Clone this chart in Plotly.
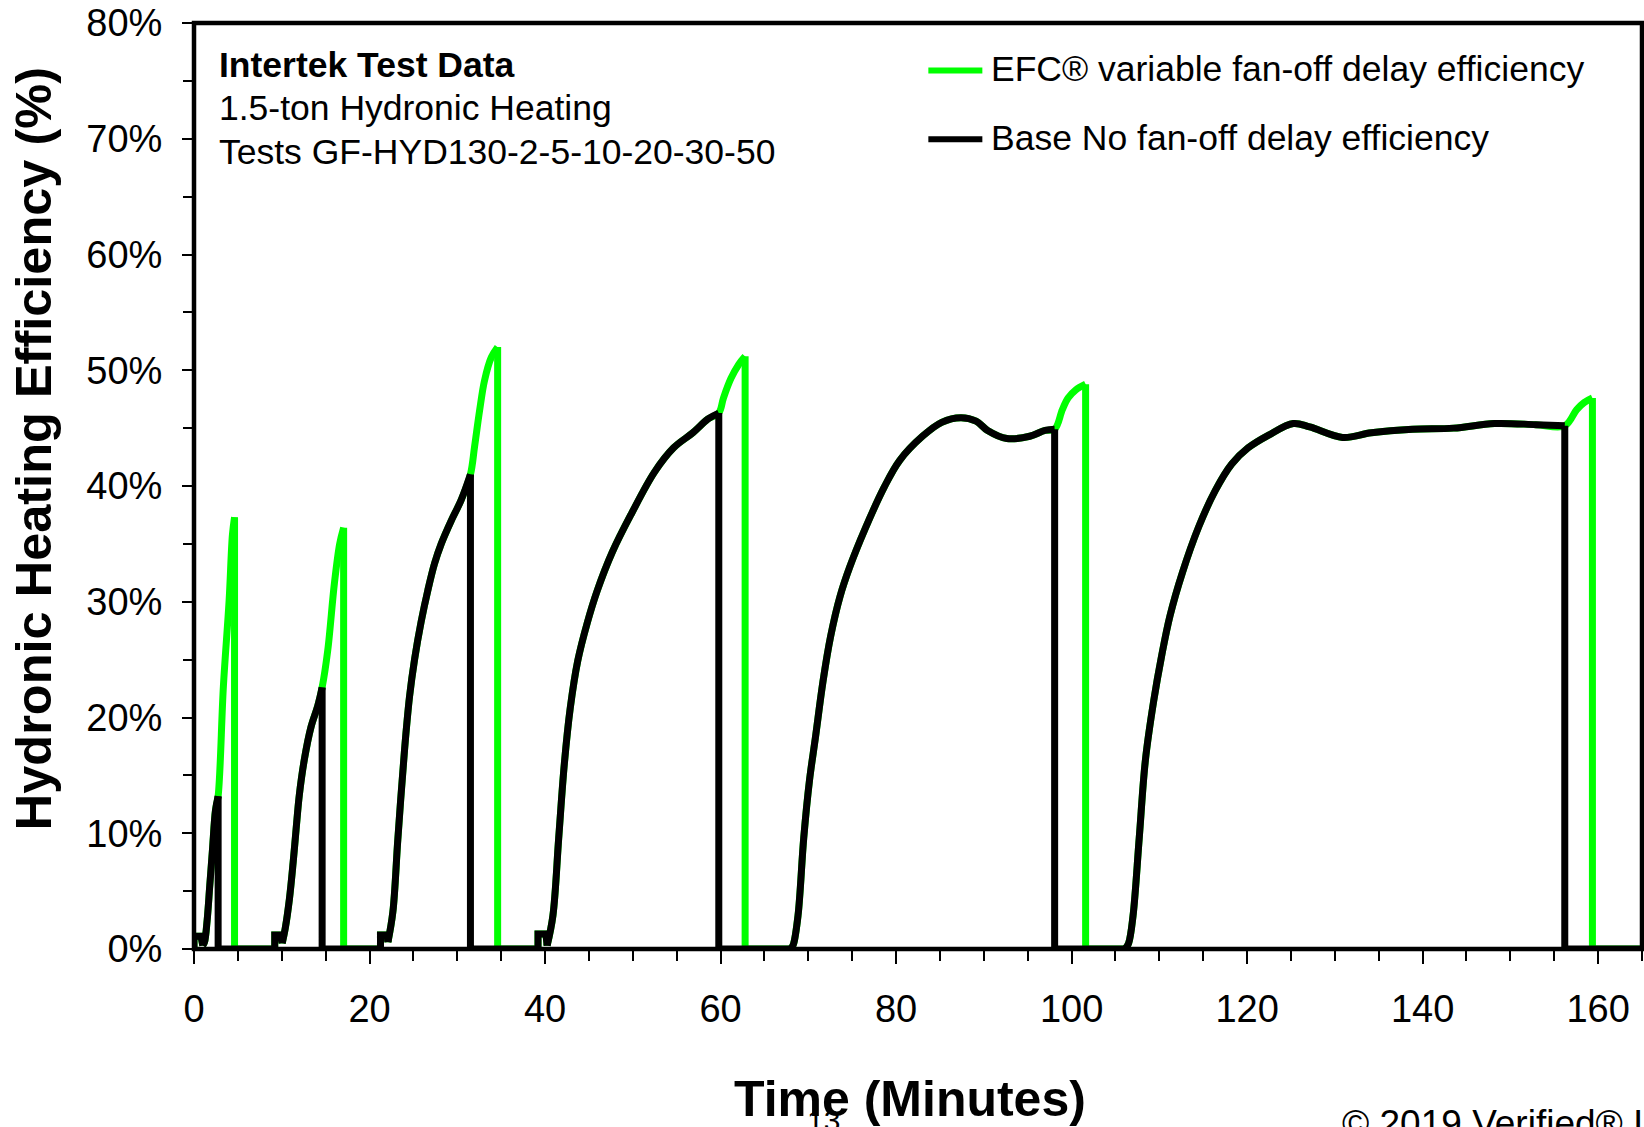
import plotly.graph_objects as go

# ---------------- data (time in minutes, efficiency in %) ----------------
# Burner-on portions of each cycle (shared by both series)
c1_time = [0.0, 0.0, 0.8, 1.0, 1.2, 1.5, 1.8, 2.1, 2.45, 2.75]
c1_eff = [0.0, 1.1, 1.1, 0.3, 0.6, 2.5, 5.5, 8.5, 12.0, 13.2]
c2_time = [9.2, 9.2, 9.9, 10.05, 10.4, 10.87, 11.3, 11.63, 12.0, 12.58, 13.34, 14.1, 14.6]
c2_eff = [0.0, 1.2, 1.2, 0.5, 1.8, 4.3, 7.5, 10.3, 13.3, 16.4, 19.2, 21.0, 22.6]
c3_time = [21.25, 21.25, 22.0, 22.1, 22.66, 23.23, 23.99, 24.56, 25.13, 25.89, 26.65,
           27.41, 28.17, 29.31, 30.45, 31.5]
c3_eff = [0.0, 1.2, 1.2, 0.6, 3.2, 9.5, 17.2, 21.8, 25.0, 28.3, 31.0, 33.3, 35.0, 37.0,
          38.8, 41.0]
c4_time = [39.2, 39.2, 40.1, 40.24, 40.9, 41.56, 42.2, 42.87, 43.73, 44.82, 45.92, 47.67,
           49.84, 52.47, 54.65, 56.84, 58.58, 59.8]
c4_eff = [0.0, 1.3, 1.3, 0.3, 2.9, 9.6, 16.0, 20.8, 24.9, 28.2, 30.9, 34.3, 37.6, 41.2,
          43.3, 44.6, 45.8, 46.3]
c5_time = [68.0, 68.3, 68.83, 69.48, 70.14, 70.8, 71.67, 72.54, 73.63, 74.72, 76.47,
           78.65, 80.4, 83.02, 85.2, 87.38, 89.12, 90.43, 92.62, 95.24, 96.98, 98.07]
c5_eff = [0.0, 0.4, 2.9, 9.6, 14.6, 18.2, 23.1, 27.0, 30.5, 33.0, 36.3, 39.9, 42.2, 44.3,
          45.5, 45.9, 45.6, 44.8, 44.1, 44.3, 44.8, 44.9]
c6_time = [106.1, 106.5, 107.0, 107.71, 108.41, 109.35, 110.28, 111.22, 112.62, 114.5,
           116.37, 118.25, 120.12, 122.46, 125.27, 127.14, 130.88, 134.16, 138.84,
           143.52, 148.2, 152.9, 156.2]
c6_eff = [0.0, 0.5, 2.85, 9.6, 16.3, 21.4, 25.4, 28.8, 32.5, 36.5, 39.6, 41.9, 43.3, 44.4,
          45.4, 45.1, 44.2, 44.6, 44.9, 45.0, 45.4, 45.3, 45.2]
# index in each on-portion where the smooth warm-up curve begins (after start-up step)
smooth_start = [3, 3, 3, 3, 0, 0]

# EFC variable fan-off delay tails (after burner off)
c1_tail_time = [3.35, 4.0, 4.38, 4.62]
c1_tail_eff = [22.7, 30.1, 35.8, 37.3]
c2_tail_time = [15.24, 16.0, 16.6, 17.05]
c2_tail_eff = [25.8, 31.6, 35.0, 36.4]
c3_tail_time = [31.97, 32.54, 33.1, 33.87, 34.6]
c3_tail_eff = [43.4, 46.5, 49.1, 51.1, 52.0]
c4_tail_time = [60.33, 61.19, 62.07, 62.8]
c4_tail_eff = [47.6, 49.3, 50.5, 51.2]
c5_tail_time = [98.95, 99.6, 100.47, 101.6]
c5_tail_eff = [46.6, 47.6, 48.3, 48.8]
c6_tail_time = [157.56, 158.4, 159.35]
c6_tail_eff = [46.6, 47.2, 47.6]

end_time = 165.0

x_tick_vals = [0, 20, 40, 60, 80, 100, 120, 140, 160]
y_tick_vals = [0.0, 0.1, 0.2, 0.3, 0.4, 0.5, 0.6, 0.7, 0.8]
y_tick_text = ["0%", "10%", "20%", "30%", "40%", "50%", "60%", "70%", "80%"]

cycles = [
    (c1_time, c1_eff, c1_tail_time, c1_tail_eff),
    (c2_time, c2_eff, c2_tail_time, c2_tail_eff),
    (c3_time, c3_eff, c3_tail_time, c3_tail_eff),
    (c4_time, c4_eff, c4_tail_time, c4_tail_eff),
    (c5_time, c5_eff, c5_tail_time, c5_tail_eff),
    (c6_time, c6_eff, c6_tail_time, c6_tail_eff),
]

# straight parts (start-up steps, burner-off drops, zero baseline) and smooth parts;
# None breaks the straight polyline where the smooth curve takes over
base_lin_x, base_lin_y, efc_lin_x, efc_lin_y = [], [], [], []
base_curves, efc_curves = [], []
for (on_t, on_e, tail_t, tail_e), k in zip(cycles, smooth_start):
    on_f = [v / 100 for v in on_e]
    tail_f = [v / 100 for v in tail_e]
    base_lin_x += on_t[:k + 1] + [None, on_t[-1], on_t[-1]]
    base_lin_y += on_f[:k + 1] + [None, on_f[-1], 0.0]
    base_curves.append((on_t[k:], on_f[k:]))
    efc_lin_x += on_t[:k + 1] + [None, tail_t[-1], tail_t[-1]]
    efc_lin_y += on_f[:k + 1] + [None, tail_f[-1], 0.0]
    efc_curves.append((on_t[k:] + tail_t, on_f[k:] + tail_f))
base_lin_x.append(end_time); base_lin_y.append(0.0)
efc_lin_x.append(end_time); efc_lin_y.append(0.0)

# ---------------- layout geometry ----------------
W, H = 1644, 1127
L, R, T, B = 193.7, 1641.6, 21.0, 949.3
FONT = "Liberation Sans, Arial, Helvetica, sans-serif"
GREEN = "#00FF00"
LW = 7


def px(x):
    return (x - L) / (R - L)


def py(y):
    return (B - y) / (B - T)


fig = go.Figure()
for name, color, lin_x, lin_y, curves in [
        ("EFC® variable fan-off delay efficiency", GREEN, efc_lin_x, efc_lin_y, efc_curves),
        ("Base No fan-off delay efficiency", "black", base_lin_x, base_lin_y, base_curves)]:
    fig.add_trace(go.Scatter(x=lin_x, y=lin_y, mode="lines", name=name, legendgroup=name,
                             connectgaps=False, line=dict(color=color, width=LW),
                             showlegend=False))
    for cx, cy in curves:
        fig.add_trace(go.Scatter(x=cx, y=cy, mode="lines", name=name, legendgroup=name,
                                 line=dict(color=color, width=LW, shape="spline", smoothing=1.0),
                                 showlegend=False))

tickfont = dict(family=FONT, size=38, color="black")
fig.update_xaxes(range=[0, end_time], tickvals=x_tick_vals, ticks="outside", ticklen=14,
                 tickwidth=1.5, tickcolor="black", showgrid=False, zeroline=False,
                 showline=False, tickfont=tickfont, ticklabelstandoff=12,
                 minor=dict(dtick=5, tick0=0, ticks="outside", ticklen=11, tickwidth=1.5,
                            tickcolor="black", showgrid=False))
fig.update_yaxes(range=[0, 0.8], tickvals=y_tick_vals, ticktext=y_tick_text, ticks="outside",
                 ticklen=11, tickwidth=1.5, tickcolor="black", showgrid=False, zeroline=False,
                 showline=False, tickfont=tickfont, ticklabelstandoff=12,
                 minor=dict(dtick=0.05, tick0=0, ticks="outside", ticklen=10, tickwidth=1.5,
                            tickcolor="black", showgrid=False))

shapes = [
    dict(type="rect", xref="paper", yref="paper", x0=0, x1=1, y0=0, y1=1,
         line=dict(color="black", width=4.5), layer="above"),
    dict(type="line", xref="paper", yref="paper", x0=px(928), x1=px(982), y0=py(68.5), y1=py(68.5),
         line=dict(color=GREEN, width=6)),
    dict(type="line", xref="paper", yref="paper", x0=px(928), x1=px(982), y0=py(137.5), y1=py(137.5),
         line=dict(color="black", width=6)),
]

ann = []


def add_text(text, x, y, size, bold=False, xanchor="left", angle=0):
    t = f"<b>{text}</b>" if bold else text
    ann.append(dict(text=t, x=px(x), y=py(y), xref="paper", yref="paper", showarrow=False,
                    xanchor=xanchor, yanchor="middle", textangle=angle,
                    font=dict(family=FONT, size=size, color="black")))


add_text("Intertek Test Data", 217, 63, 35.5, bold=True)
add_text("1.5-ton Hydronic Heating", 217, 106, 35.5)
add_text("Tests GF-HYD130-2-5-10-20-30-50", 217, 150, 35.5)
add_text("EFC® variable fan-off delay efficiency", 989, 67, 35.5)
add_text("Base No fan-off delay efficiency", 989, 136, 35.5)
add_text("Hydronic Heating Efficiency (%)", 34, 448, 50.5, bold=True, xanchor="center", angle=-90)
add_text("Time (Minutes)", 910, 1100, 50, bold=True, xanchor="center")
add_text("13", 823, 1121, 30, xanchor="center")
add_text("© 2019 Verified® Inc.", 1340, 1124, 37)

fig.update_layout(width=W, height=H, margin=dict(l=L, r=W - R, t=T, b=H - B, pad=0),
                  plot_bgcolor="white", paper_bgcolor="white", shapes=shapes, annotations=ann,
                  font=dict(family=FONT, color="black"), showlegend=False)

fig.write_html("out.html", config={"displayModeBar": False},
               post_script="document.body.style.margin='0';document.body.style.overflow='hidden';")
